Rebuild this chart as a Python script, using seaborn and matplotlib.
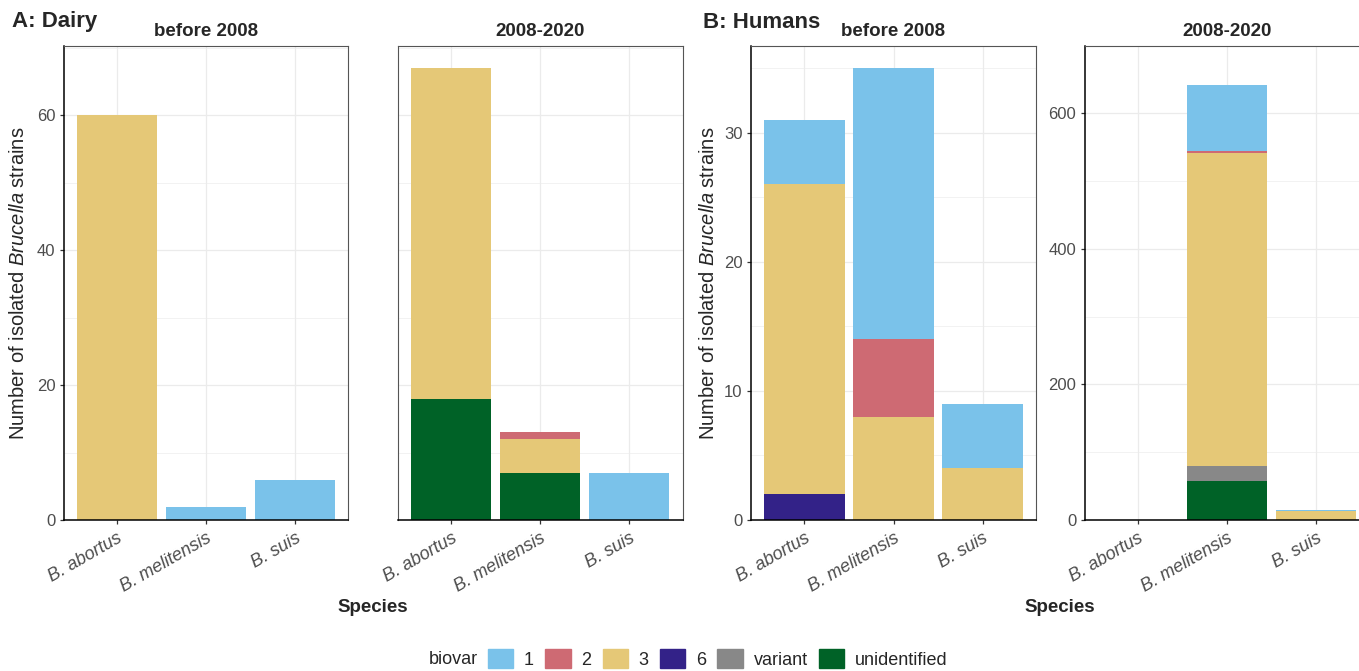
# Brucella isolates by species and biovar, dairy vs humans, two periods
import pandas as pd
import matplotlib.pyplot as plt
import seaborn as sns

# categories
species = ["B. abortus", "B. melitensis", "B. suis"]
biovars = ["1", "2", "3", "6", "variant", "unidentified"]
biovar_colors = ["#7AC2EA", "#CE6A73", "#E5C877", "#332288", "#888888", "#006227"]

# counts: one row per biovar (same order as biovars), one column per species
dairy_before = [
    [0, 2, 6],
    [0, 0, 0],
    [60, 0, 0],
    [0, 0, 0],
    [0, 0, 0],
    [0, 0, 0],
]
dairy_after = [
    [0, 0, 7],
    [0, 1, 0],
    [49, 5, 0],
    [0, 0, 0],
    [0, 0, 0],
    [18, 7, 0],
]
humans_before = [
    [5, 21, 5],
    [0, 6, 0],
    [24, 8, 4],
    [2, 0, 0],
    [0, 0, 0],
    [0, 0, 0],
]
humans_after = [
    [0, 97, 2],
    [0, 3, 0],
    [0, 461, 13],
    [0, 0, 0],
    [0, 23, 0],
    [0, 57, 0],
]

yticks_dairy = [0, 20, 40, 60]
yticks_humans_before = [0, 10, 20, 30]
yticks_humans_after = [0, 200, 400, 600]

sns.set_style("white")
plt.rcParams["font.family"] = ["Liberation Sans", "DejaVu Sans"]
plt.rcParams["mathtext.fontset"] = "custom"
plt.rcParams["mathtext.rm"] = "Liberation Sans"
plt.rcParams["mathtext.it"] = "Liberation Sans:italic"

W, H = 1359, 671
fig = plt.figure(figsize=(W / 100, H / 100), dpi=100)


def add_panel(left, right):
    return fig.add_axes([left / W, 1 - 520 / H, (right - left) / W, 474.5 / H])


def draw_panel(ax, counts, yticks, ymax, title, show_y):
    # long table with cumulative tops, stacked bottom -> top as unidentified ... 1
    rows = []
    stack_order = list(range(len(biovars)))[::-1]
    for j, sp in enumerate(species):
        cum = 0
        for i in stack_order:
            cum += counts[i][j]
            rows.append({"species": sp, "biovar": biovars[i], "top": cum})
    df = pd.DataFrame(rows)
    # draw from top layer down so lower layers cover upper cumulative bars
    for i in range(len(biovars)):
        sub = df[df["biovar"] == biovars[i]]
        sns.barplot(data=sub, x="species", y="top", order=species,
                    color=biovar_colors[i], width=0.9, saturation=1,
                    edgecolor="none", linewidth=0, ax=ax)
    ax.set_xlim(-0.6, 2.6)
    ax.set_ylim(0, ymax * 1.05)
    ax.set_yticks(yticks)
    ax.set_yticks([(a + b) / 2 for a, b in zip(yticks[:-1], yticks[1:])]
                  + [yticks[-1] + (yticks[1] - yticks[0]) / 2], minor=True)
    ax.set_axisbelow(True)
    ax.grid(which="major", color="#EBEBEB", lw=0.9)
    ax.grid(which="minor", axis="y", color="#EBEBEB", lw=0.45)
    ax.set_xlabel("")
    ax.set_ylabel("")
    ax.set_xticks(range(len(species)))
    ax.set_xticklabels(species, rotation=30, ha="right", va="top",
                       rotation_mode="anchor", style="italic",
                       fontsize=13, color="#4D4D4D")
    ax.tick_params(axis="x", length=3, width=0.9, color="#333333",
                   bottom=True, pad=4)
    if show_y:
        ax.tick_params(axis="y", which="major", length=3, width=0.9,
                       color="#333333", left=True, labelsize=12,
                       labelcolor="#4D4D4D", pad=3)
    else:
        ax.tick_params(axis="y", which="major", left=False, labelleft=False)
    ax.tick_params(axis="y", which="minor", left=False)
    for side in ["top", "right"]:
        ax.spines[side].set_color("#555555")
        ax.spines[side].set_linewidth(0.8)
    ax.spines["bottom"].set_color("black")
    ax.spines["bottom"].set_linewidth(1.1)
    ax.spines["left"].set_color("black" if show_y else "#555555")
    ax.spines["left"].set_linewidth(1.1 if show_y else 0.8)
    ax.set_title(title, fontsize=13.5, fontweight="bold", pad=7)


ax1 = add_panel(63.6, 348.4)
ax2 = add_panel(397.7, 682.5)
ax3 = add_panel(751, 1036)
ax4 = add_panel(1084.5, 1369.5)

draw_panel(ax1, dairy_before, yticks_dairy, 67, "before 2008", True)
draw_panel(ax2, dairy_after, yticks_dairy, 67, "2008-2020", False)
draw_panel(ax3, humans_before, yticks_humans_before, 35, "before 2008", True)
draw_panel(ax4, humans_after, yticks_humans_after, 640, "2008-2020", True)

# panel tags
fig.text(12 / W, 1 - 22 / H, "A: Dairy", fontsize=16, fontweight="bold",
         ha="left", va="center")
fig.text(703 / W, 1 - 22 / H, "B: Humans", fontsize=16, fontweight="bold",
         ha="left", va="center")

# axis titles
ylab = r"Number of isolated $\it{Brucella}$ strains"
fig.text(19 / W, 1 - 283 / H, ylab, rotation=90, fontsize=14.5,
         ha="center", va="center")
fig.text(708 / W, 1 - 283 / H, ylab, rotation=90, fontsize=14.5,
         ha="center", va="center")
fig.text(373 / W, 1 - 608 / H, "Species", fontsize=13.5, fontweight="bold",
         ha="center", va="center")
fig.text(1060 / W, 1 - 608 / H, "Species", fontsize=13.5, fontweight="bold",
         ha="center", va="center")

# legend along the bottom
fig.text(478 / W, 1 - 660 / H, "biovar", fontsize=13, ha="right", va="center")
handles = [plt.Rectangle((0, 0), 1, 1, color=c) for c in biovar_colors]
fig.legend(handles, biovars, loc="center left",
           bbox_to_anchor=(488 / W, 1 - 659 / H), ncol=6, frameon=False,
           fontsize=13, handlelength=1.4, handleheight=1.25,
           handletextpad=0.6, columnspacing=0.62,
           borderpad=0, borderaxespad=0)

plt.savefig("out.png", dpi=100)
